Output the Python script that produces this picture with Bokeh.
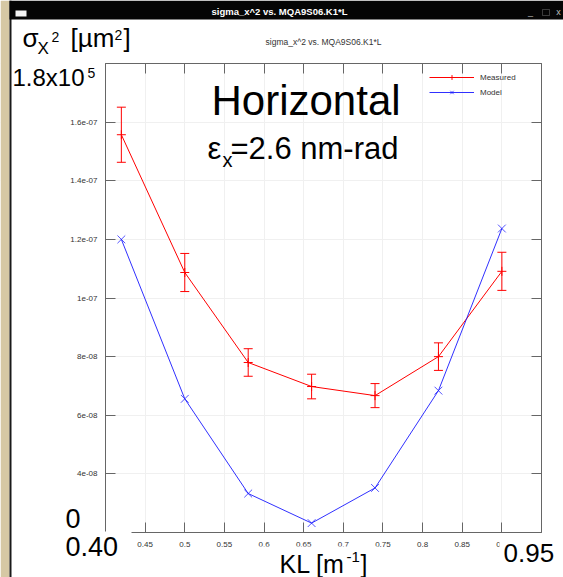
from bokeh.plotting import figure
from bokeh.models import (Range1d, FixedTicker, LinearAxis, BoxAnnotation, Label,
                          Whisker, TeeHead, ColumnDataSource, Legend, LegendItem)
from bokeh.embed import file_html
from bokeh.resources import INLINE

# ---------------- data ----------------
kl = [0.42, 0.50, 0.58, 0.66, 0.74, 0.82, 0.90]
sigma2_measured = [1.557e-7, 1.087e-7, 7.80e-8, 6.98e-8, 6.67e-8, 8.00e-8, 1.091e-7]
sigma2_error = [9.4e-9, 6.5e-9, 4.7e-9, 4.2e-9, 4.1e-9, 4.7e-9, 6.5e-9]
sigma2_model = [1.200e-7, 6.56e-8, 3.33e-8, 2.32e-8, 3.52e-8, 6.84e-8, 1.237e-7]

x_ticks = [0.40, 0.45, 0.50, 0.55, 0.60, 0.65, 0.70, 0.75, 0.80, 0.85, 0.90, 0.95]
x_tick_labels = ["", "0.45", "0.5", "0.55", "0.6", "0.65", "0.7", "0.75", "0.8", "0.85", "0.9", ""]
y_ticks = [2e-8, 4e-8, 6e-8, 8e-8, 1e-7, 1.2e-7, 1.4e-7, 1.6e-7, 1.8e-7]
y_tick_labels = ["", "4e-08", "6e-08", "8e-08", "1e-07", "1.2e-07", "1.4e-07", "1.6e-07", ""]

window_title = "sigma_x^2 vs. MQA9S06.K1*L"
plot_title = "sigma_x^2 vs. MQA9S06.K1*L"

# ---------------- layout (pixels of the screenshot) ----------------
W, H = 563, 577
FX0, FX1, FY0, FY1 = 105, 541, 63, 532   # plot box inside the window
XR = (0.40, 0.95)
YR = (2e-8, 1.8e-7)


def dx(px):
    return XR[0] + (px - FX0) * (XR[1] - XR[0]) / (FX1 - FX0)


def dy(py):
    return YR[0] + (FY1 - py) * (YR[1] - YR[0]) / (FY1 - FY0)


# the frame fills the whole window; the gnuplot box is drawn by fixed axes
p = figure(width=W, height=H, x_range=Range1d(dx(0), dx(W)), y_range=Range1d(dy(H), dy(0)),
           output_backend="svg", toolbar_location=None,
           min_border_left=0, min_border_right=0, min_border_top=0, min_border_bottom=0,
           background_fill_color="white", border_fill_color="white",
           outline_line_color=None)

FONT = "Liberation Sans"
AX = "#666666"

xa = p.xaxis[0]
ya = p.yaxis[0]
xa.ticker = FixedTicker(ticks=x_ticks)
ya.ticker = FixedTicker(ticks=y_ticks)
xa.major_label_overrides = dict(zip(x_ticks, x_tick_labels))
ya.major_label_overrides = dict(zip(y_ticks, y_tick_labels))
xa.major_label_standoff = 9
ya.major_label_standoff = 8
xa.fixed_location = YR[0]
ya.fixed_location = XR[0]

top = LinearAxis(ticker=FixedTicker(ticks=x_ticks), fixed_location=YR[1],
                 major_label_overrides={t: "" for t in x_ticks})
right = LinearAxis(ticker=FixedTicker(ticks=y_ticks), fixed_location=XR[1],
                   major_label_overrides={t: "" for t in y_ticks})
p.add_layout(top, "above")
p.add_layout(right, "right")

for ax, b in ((xa, XR), (top, XR), (ya, YR), (right, YR)):
    ax.bounds = b
    ax.major_tick_in = 10
    ax.major_tick_out = 0
    ax.minor_tick_line_color = None
    ax.axis_line_color = AX
    ax.major_tick_line_color = AX
    ax.major_label_text_font = FONT
    ax.major_label_text_font_size = "8px"
    ax.major_label_text_color = "#333333"

p.xgrid.ticker = FixedTicker(ticks=x_ticks)
p.ygrid.ticker = FixedTicker(ticks=y_ticks)
p.grid.grid_line_color = "#f0f0f0"


def box(l, r, t, b, color, line=None, level="overlay"):
    p.add_layout(BoxAnnotation(left=dx(l), right=dx(r), top=dy(t), bottom=dy(b),
                               fill_color=color, fill_alpha=1 if color else 0,
                               line_color=line, line_width=1, level=level))


# mask grid lines outside the plot box
box(0, FX0, 0, H, "white", level="underlay")
box(FX1, W, 0, H, "white", level="underlay")
box(0, W, 0, FY0, "white", level="underlay")
box(0, W, FY1, H, "white", level="underlay")

# ---------------- data glyphs ----------------
src_m = ColumnDataSource(dict(
    x=kl, y=sigma2_measured,
    upper=[m + e for m, e in zip(sigma2_measured, sigma2_error)],
    lower=[m - e for m, e in zip(sigma2_measured, sigma2_error)],
))
src_b = ColumnDataSource(dict(x=kl, y=sigma2_model))

RED = "#ff0000"
BLUE = "#1a1aff"

r_ml = p.line("x", "y", source=src_m, line_color=RED, line_width=1)
r_mp = p.scatter("x", "y", source=src_m, marker="cross", size=9, line_color=RED, line_width=1)
p.add_layout(Whisker(source=src_m, base="x", upper="upper", lower="lower",
                     line_color=RED, line_width=1,
                     upper_head=TeeHead(size=9, line_color=RED, line_width=1),
                     lower_head=TeeHead(size=9, line_color=RED, line_width=1)))

r_bl = p.line("x", "y", source=src_b, line_color=BLUE, line_width=1, line_alpha=0.9)
r_bp = p.scatter("x", "y", source=src_b, marker="x", size=11, line_color=BLUE,
                 line_width=1, line_alpha=0.75)

legend = Legend(items=[LegendItem(label="Measured", renderers=[r_ml, r_mp]),
                       LegendItem(label="Model", renderers=[r_bl, r_bp])],
                location=(429, H - 98), margin=0, padding=3, spacing=3,
                glyph_width=45, glyph_height=12, label_height=12,
                label_text_font=FONT, label_text_font_size="8px",
                label_text_color="#333333", label_standoff=6,
                border_line_color=None, background_fill_alpha=0)
p.add_layout(legend)

# ---------------- screenshot framing / overlays ----------------


def lab(px, base, text, size, color="black", bold=False, align="left"):
    # base: pixel row of the text's baseline; placed via its middle
    p.add_layout(Label(x=dx(px), y=dy(base - 0.355 * size), text=text, text_font=FONT,
                       text_font_size=f"{size}px", text_color=color,
                       text_font_style="bold" if bold else "normal",
                       text_align=align, text_baseline="middle", level="overlay"))


# white boxes of the pasted annotations
box(11, 103, 61, 95, "white")
box(55, 103, 500, 531, "white")
box(11, 131, 531, 577, "white")
box(499, 563, 533, 577, "white")
box(252, 378, 546, 577, "white")

# window chrome
box(0, 9, 0, H, "#d6c8a4")
box(9, 11, 0, H, "#1a1a1a")
box(9, W, 0, 19, "#050505")
box(15, 26, 10, 16, "#f4f4f4")
box(542, 549, 9, 15, None, line="#bbbbbb")
lab(530, 15, "_", 9, color="#bbbbbb", align="center")
lab(558, 15, "x", 9, color="#bbbbbb", align="center")
lab(279, 14, window_title, 9.5, color="white", bold=True, align="center")

# gnuplot title
lab(323, 45, plot_title, 8.5, color="#333333", align="center")

# y-axis annotation: sigma_X^2 [um^2]
lab(22, 47, "σ", 26)
lab(37, 54, "X", 17)
lab(51, 41, "2", 14)
lab(70, 47, "[µm", 26)
lab(114, 39, "2", 14)
lab(123, 47, "]", 26)

lab(12, 86, "1.8x10", 24)
lab(87, 77, "5", 14)

lab(65, 528, "0", 27)
lab(65, 556, "0.40", 27)
lab(503, 562, "0.95", 26)

# x-axis annotation: KL [m^-1]
lab(279, 572, "KL [m", 25)
lab(346, 562, "-1", 15)
lab(360, 572, "]", 25)

lab(211, 115, "Horizontal", 42)
lab(207, 159, "ε", 31)
lab(222, 167, "x", 20)
lab(230, 159, "=2.6 nm-rad", 31)

open("out.html", "w").write(file_html(p, INLINE))
